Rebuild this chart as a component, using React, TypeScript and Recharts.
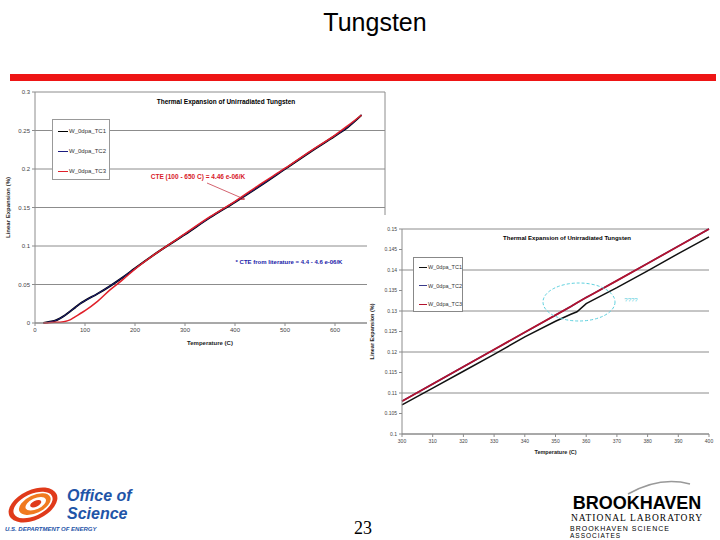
import { LineChart, Line, XAxis, YAxis, CartesianGrid, Legend, ReferenceLine } from "recharts"

// full-range run (left chart)
const leftTemps = [17, 25, 40, 50, 60, 70, 80, 90, 100, 125, 150, 175, 200, 250, 300, 350, 400, 450, 500, 550, 600, 625, 653]
const leftTC1 = [0, 0.001, 0.003, 0.006, 0.01, 0.015, 0.02, 0.025, 0.029, 0.038, 0.048, 0.059, 0.071, 0.094, 0.115, 0.137, 0.157, 0.178, 0.2, 0.222, 0.243, 0.254, 0.27]
const leftTC2 = [0, 0.001, 0.003, 0.006, 0.01, 0.015, 0.02, 0.025, 0.029, 0.038, 0.048, 0.059, 0.071, 0.094, 0.115, 0.137, 0.157, 0.178, 0.2, 0.222, 0.243, 0.254, 0.27]
const leftTC3 = [0, 0, 0.001, 0.001, 0.002, 0.004, 0.008, 0.012, 0.016, 0.028, 0.043, 0.056, 0.07, 0.094, 0.116, 0.138, 0.158, 0.18, 0.201, 0.223, 0.244, 0.256, 0.27]
const leftXTicks = [0, 100, 200, 300, 400, 500, 600]
const leftYTicks = [0, 0.05, 0.1, 0.15, 0.2, 0.25, 0.3]

// zoom 300-400 C (right chart)
const rightTemps = [300, 310, 320, 330, 340, 350, 355, 357, 360, 362, 370, 380, 390, 400]
const rightTC1 = [0.1071, 0.1112, 0.1153, 0.1194, 0.1237, 0.1275, 0.1292, 0.1298, 0.1318, 0.1326, 0.1357, 0.1398, 0.144, 0.1481]
const rightTC2 = [0.108, 0.1122, 0.1164, 0.1206, 0.1248, 0.129, 0.1311, 0.132, 0.1333, 0.1341, 0.1374, 0.1416, 0.1458, 0.15]
const rightTC3 = [0.108, 0.1122, 0.1164, 0.1206, 0.1248, 0.129, 0.1311, 0.132, 0.1333, 0.1341, 0.1374, 0.1416, 0.1458, 0.15]
const rightXTicks = [300, 310, 320, 330, 340, 350, 360, 370, 380, 390, 400]
const rightYTicks = [0.1, 0.105, 0.11, 0.115, 0.12, 0.125, 0.13, 0.135, 0.14, 0.145, 0.15]

const seriesNames = ["W_0dpa_TC1", "W_0dpa_TC2", "W_0dpa_TC3"]

const FONT = '"Liberation Sans", Arial, sans-serif'
const GRID = "#8c8c8c"
const fmt = (v: number) => String(parseFloat(v.toFixed(3)))

const leftData = leftTemps.map((t, i) => ({ t, tc1: leftTC1[i], tc2: leftTC2[i], tc3: leftTC3[i] }))
const rightData = rightTemps.map((t, i) => ({ t, tc1: rightTC1[i], tc2: rightTC2[i], tc3: rightTC3[i] }))

function legendContent(rowH: number, padTop: number, fontSize: number) {
  return (props: any) => (
    <div style={{ paddingTop: padTop, paddingLeft: 5 }}>
      {(props.payload || []).map((p: any) => (
        <div key={p.value} style={{ display: "flex", alignItems: "center", height: rowH, fontSize, color: "#333", fontFamily: FONT }}>
          <span style={{ width: 10, borderTop: `1.5px solid ${p.color}`, marginRight: 1 }} />
          <span>{p.value}</span>
        </div>
      ))}
    </div>
  )
}

function Txt({ x, y, size, color = "#000", bold = false, italic = false, family = FONT, anchor = "middle", spacing = 0, children }: any) {
  const tx = anchor === "middle" ? "-50%" : anchor === "end" ? "-100%" : "0"
  return (
    <div
      style={{
        position: "absolute",
        left: x,
        top: y,
        transform: `translate(${tx}, -50%)`,
        fontSize: size,
        lineHeight: 1,
        color,
        fontWeight: bold ? "bold" : "normal",
        fontStyle: italic ? "italic" : "normal",
        fontFamily: family,
        letterSpacing: spacing,
        whiteSpace: "nowrap",
      }}
    >
      {children}
    </div>
  )
}

export default function App() {
  const tick6 = { fontSize: 6, fill: "#444", fontFamily: FONT }
  const tick5 = { fontSize: 5, fill: "#444", fontFamily: FONT }
  return (
    <div style={{ position: "fixed", left: 0, top: 0, width: 720, height: 540, background: "#fff", overflow: "hidden", fontFamily: FONT }}>
      <div style={{ position: "absolute", left: 0, top: 10, width: 750, textAlign: "center", fontSize: 25, lineHeight: "25px", fontFamily: FONT }}>
        Tungsten
      </div>
      <div style={{ position: "absolute", left: 10, top: 74, width: 706, height: 7, background: "#ee1515" }} />

      {/* left chart: full temperature range */}
      <div style={{ position: "absolute", left: 0, top: 80 }}>
        <LineChart width={400} height={270} data={leftData} margin={{ top: 12, right: 15, bottom: 0, left: 0 }}>
          <CartesianGrid vertical={false} stroke={GRID} strokeWidth={1} />
          <XAxis
            dataKey="t"
            type="number"
            domain={[0, 700]}
            ticks={leftXTicks}
            height={27}
            tick={tick6}
            tickSize={3}
            stroke={GRID}
            label={{ value: "Temperature (C)", position: "insideBottom", offset: 5, style: { fontSize: 6, fontWeight: "bold", fill: "#222", fontFamily: FONT } }}
          />
          <YAxis
            type="number"
            domain={[0, 0.3]}
            ticks={leftYTicks}
            tickFormatter={fmt}
            width={35}
            tick={tick6}
            tickSize={3}
            stroke={GRID}
            label={{ value: "Linear Expansion (%)", angle: -90, position: "insideLeft", offset: 8, style: { fontSize: 6, fontWeight: "bold", fill: "#222", textAnchor: "middle", fontFamily: FONT } }}
          />
          <ReferenceLine x={700} stroke={GRID} />
          <Legend
            layout="vertical"
            align="center"
            verticalAlign="middle"
            content={legendContent(20, 1, 6)}
            wrapperStyle={{ left: 52, top: 39, width: 58, height: 61, background: "#fff", border: "1px solid #999", boxSizing: "border-box" }}
          />
          <Line dataKey="tc1" name={seriesNames[0]} type="monotone" stroke="#000" strokeWidth={2} dot={false} isAnimationActive={false} />
          <Line dataKey="tc2" name={seriesNames[1]} type="monotone" stroke="#1c1c80" strokeWidth={1} dot={false} isAnimationActive={false} />
          <Line dataKey="tc3" name={seriesNames[2]} type="monotone" stroke="#e0202a" strokeWidth={1.5} dot={false} isAnimationActive={false} />
        </LineChart>
      </div>
      <Txt x={226} y={102} size={6.5} bold>Thermal Expansion of Unirradiated Tungsten</Txt>
      <Txt x={198} y={177} size={6.5} bold color="#d8202a">CTE (100 - 650 C) = 4.46 e-06/K</Txt>
      <Txt x={289} y={262} size={6} bold color="#2020a8">* CTE from literature = 4.4 - 4.6 e-06/K</Txt>

      {/* right chart: 300-400 C detail */}
      <div style={{ position: "absolute", left: 367, top: 215, background: "#fff" }}>
        <LineChart width={353} height={245} data={rightData} margin={{ top: 14, right: 11, bottom: 0, left: 0 }}>
          <CartesianGrid vertical={false} stroke={GRID} strokeWidth={1} />
          <XAxis
            dataKey="t"
            type="number"
            domain={[300, 400]}
            ticks={rightXTicks}
            height={26}
            tick={tick5}
            tickSize={3}
            stroke={GRID}
            label={{ value: "Temperature (C)", position: "insideBottom", offset: 6, style: { fontSize: 5.5, fontWeight: "bold", fill: "#222", fontFamily: FONT } }}
          />
          <YAxis
            type="number"
            domain={[0.1, 0.15]}
            ticks={rightYTicks}
            tickFormatter={fmt}
            width={35}
            tick={tick5}
            tickSize={3}
            stroke={GRID}
            label={{ value: "Linear Expansion (%)", angle: -90, position: "insideLeft", offset: 5, style: { fontSize: 5.5, fontWeight: "bold", fill: "#222", textAnchor: "middle", fontFamily: FONT } }}
          />
          <Legend
            layout="vertical"
            align="center"
            verticalAlign="middle"
            content={legendContent(18.5, 0, 5.5)}
            wrapperStyle={{ left: 46, top: 42, width: 50, height: 55, background: "#fff", border: "1px solid #888", boxSizing: "border-box" }}
          />
          <Line dataKey="tc1" name={seriesNames[0]} type="linear" stroke="#111" strokeWidth={1.5} dot={false} isAnimationActive={false} />
          <Line dataKey="tc2" name={seriesNames[1]} type="linear" stroke="#3a3a8a" strokeWidth={1.5} dot={false} isAnimationActive={false} />
          <Line dataKey="tc3" name={seriesNames[2]} type="linear" stroke="#b3122e" strokeWidth={1.8} dot={false} isAnimationActive={false} />
        </LineChart>
      </div>
      <Txt x={567} y={238} size={6} bold>Thermal Expansion of Unirradiated Tungsten</Txt>
      <Txt x={631} y={300} size={6} color="#5cd0de">????</Txt>

      <svg width={720} height={540} style={{ position: "absolute", left: 0, top: 0, pointerEvents: "none" }}>
        <defs>
          <marker id="arr" markerWidth="6" markerHeight="6" refX="5" refY="3" orient="auto">
            <path d="M0,0 L6,3 L0,6" fill="none" stroke="#c02030" strokeWidth="1" />
          </marker>
        </defs>
        <line x1={207} y1={183} x2={244} y2={199} stroke="#c02030" strokeWidth={0.7} markerEnd="url(#arr)" />
        <ellipse cx={579} cy={302} rx={36} ry={19} fill="none" stroke="#5cd0de" strokeWidth={1} strokeDasharray="3 2" />
        {/* Office of Science mark */}
        <g transform="translate(33,505) rotate(-25)">
          <ellipse rx={26} ry={15} fill="#e03a1a" />
          <ellipse rx={21} ry={11} fill="#fff" />
          <ellipse cx={2} rx={17} ry={9} fill="#f07a20" />
          <ellipse cx={3} rx={11} ry={5.5} fill="#fff" />
          <ellipse cx={3} rx={6} ry={3} fill="#e03a1a" />
        </g>
        <path d="M628 494 Q660 476 690 484" fill="none" stroke="#999" strokeWidth={1.5} />
      </svg>

      <Txt x={67} y={496} size={16} bold italic color="#1f55a8" anchor="start">Office of</Txt>
      <Txt x={67} y={514} size={16} bold italic color="#1f55a8" anchor="start">Science</Txt>
      <Txt x={5} y={529} size={6} bold italic color="#1f55a8" anchor="start">U.S. DEPARTMENT OF ENERGY</Txt>
      <Txt x={363} y={528} size={18} family='"Liberation Serif", serif'>23</Txt>
      <Txt x={637} y={503} size={18} bold family='"Liberation Sans Narrow", "Liberation Sans", sans-serif'>BROOKHAVEN</Txt>
      <Txt x={637} y={519} size={9.5} spacing={1} family='"Liberation Serif", serif'>NATIONAL LABORATORY</Txt>
      <Txt x={570} y={528} size={7} spacing={1} anchor="start">BROOKHAVEN SCIENCE</Txt>
      <Txt x={570} y={535.5} size={6.5} spacing={1} anchor="start">ASSOCIATES</Txt>
    </div>
  )
}
